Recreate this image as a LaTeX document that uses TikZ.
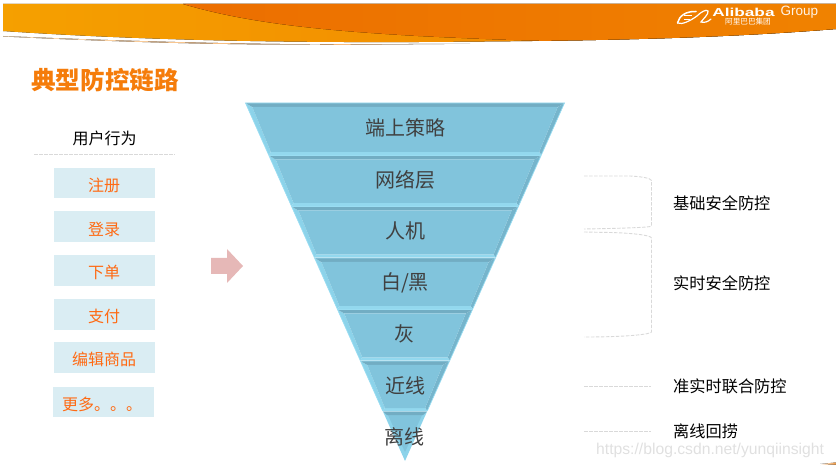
\documentclass[tikz,border=0pt]{standalone}
\usepackage{fontspec}
\setmainfont{Noto Sans CJK SC}
\newfontfamily\latinf{Liberation Sans}
\definecolor{facec}{HTML}{81C4DC}
\definecolor{topbev}{HTML}{72ADC3}
\definecolor{lowbev}{HTML}{93D8EE}
\definecolor{leftbev}{HTML}{8CD3EA}
\definecolor{rightbev}{HTML}{76B5CC}
\definecolor{edgec}{HTML}{9ADDF2}
\definecolor{boxc}{HTML}{DAEDF3}
\definecolor{acttxt}{HTML}{FF6A13}
\definecolor{dashc}{HTML}{D9D9D9}
\definecolor{titlec}{HTML}{F57C0A}
\tikzset{
  actbox/.style={fill=boxc,draw=none,minimum width=101bp,minimum height=30.5bp,inner sep=0pt},
  acttext/.style={inner sep=0pt,text=acttxt,font=\fontsize{16bp}{18bp}\selectfont},
  bandtxt/.style={text=black!75,inner sep=0pt,font=\fontsize{20bp}{22bp}\selectfont},
  sidetxt/.style={text=black,inner sep=0pt,anchor=west,font=\fontsize{16.2bp}{18bp}\selectfont},
  dashln/.style={draw=dashc,line width=0.9bp,dash pattern=on 3.5bp off 1.5bp},
}
\newcommand{\bandshape}[2]{%
  \pgfmathsetmacro{\ha}{0.44553*(461-#1)}%
  \pgfmathsetmacro{\hb}{0.44553*(461-#2)}%
  \pgfmathsetmacro{\hc}{0.44553*(461-#1-4)-5}%
  \pgfmathsetmacro{\hd}{0.44553*(461-#2+3)-3.5}%
  \fill[leftbev] (405-\ha,#1) -- (405-\hc,#1+4) -- (405-\hd,#2-3) -- (405-\hb,#2) -- cycle;
  \fill[rightbev] (405+\ha,#1) -- (405+\hc,#1+4) -- (405+\hd,#2-3) -- (405+\hb,#2) -- cycle;
  \fill[topbev] (405-\ha,#1) -- (405+\ha,#1) -- (405+\hc,#1+4) -- (405-\hc,#1+4) -- cycle;
  \fill[lowbev] (405-\hb,#2) -- (405+\hb,#2) -- (405+\hd,#2-3) -- (405-\hd,#2-3) -- cycle;
  \fill[facec] (405-\hc,#1+4) -- (405+\hc,#1+4) -- (405+\hd,#2-3) -- (405-\hd,#2-3) -- cycle;
  \draw[edgec,line width=0.7bp] (405-\hb,#2) -- (405-\ha,#1) -- (405+\ha,#1) -- (405+\hb,#2);
}
\begin{document}
\begin{tikzpicture}[x=1bp,y=-1bp]
\useasboundingbox (0,0) rectangle (836,468);
% header
\begin{scope}
\clip (3,4) -- (836,4) -- (836,29) .. controls (700,40) and (560,41) .. (420,42) .. controls (300,42.5) and (150,41) .. (3,31) -- cycle;
\fill[left color={rgb,255:red,245;green,160;blue,0},right color={rgb,255:red,240;green,128;blue,0}] (0,0) rectangle (836,50);
\fill[left color={rgb,255:red,236;green,110;blue,0},right color={rgb,255:red,240;green,130;blue,0}] (183,4) .. controls (250,24) and (330,31) .. (418,36) .. controls (500,40) and (560,42) .. (640,42) -- (836,42) -- (836,4) -- cycle;
\end{scope}
\fill[left color={rgb,255:red,252;green,225;blue,190},right color={rgb,255:red,244;green,175;blue,105}] (3,36) .. controls (120,41) and (230,44) .. (320,44.3) .. controls (230,45.3) and (120,42) .. (3,36.5) -- cycle;
\fill[left color={rgb,255:red,244;green,175;blue,105},right color=white] (320,44.3) -- (470,43.8) -- (320,45) -- cycle;
% logo
\draw[white,line width=1.5bp,line cap=round] (677.5,23) .. controls (679,16) and (686,11) .. (696,11.5);
\draw[white,line width=1.2bp,line cap=round] (677.5,23) .. controls (682,25) and (690,21) .. (697,16) .. controls (701,12) and (706,9) .. (708,11) .. controls (709,14) and (703,19) .. (701,22) .. controls (704,23) and (708,22) .. (711,19);
\draw[white,line width=0.8bp] (684,15) -- (692,15) (684,19) -- (690,19);
\node[inner sep=0pt,anchor=west,text=white,xscale=1.5] (alibaba) at (712,12.3) {\latinf\fontsize{11.5bp}{12bp}\selectfont\bfseries Alibaba};
\node[inner sep=0pt,anchor=west,text=white!90!orange] (group) at (780.5,12.3) {\latinf\fontsize{13.5bp}{14bp}\selectfont Group};
\node[inner sep=0pt,anchor=west,text=white] (cnname) at (725,21.5) {\fontsize{7.6bp}{8bp}\selectfont 阿里巴巴集团};
% title
\node[inner sep=0pt,anchor=west,text=titlec] (title) at (31,80.5) {\fontsize{24.6bp}{26bp}\selectfont\bfseries 典型防控链路};
% left column
\node[inner sep=0pt,text=black] (usr) at (104.5,138) {\fontsize{16bp}{18bp}\selectfont 用户行为};
\coordinate (ula) at (34,154.5);
\coordinate (ulb) at (175,154.5);
\draw[dashln] (ula) -- (ulb);
\node[actbox] (a1) at (104.5,182.8) {};
\node[actbox] (a2) at (104.5,226.5) {};
\node[actbox] (a3) at (104.5,270.3) {};
\node[actbox] (a4) at (104.5,314.5) {};
\node[actbox] (a5) at (104.5,357.5) {};
\node[actbox] (a6) at (103.5,401.8) {};
\node[acttext] (t1) at (104,185) {注册};
\node[acttext] (t2) at (104,229) {登录};
\node[acttext] (t3) at (104,272.5) {下单};
\node[acttext] (t4) at (104,316) {支付};
\node[acttext] (t5) at (104,359.5) {编辑商品};
\node[acttext,anchor=west] (t6) at (62,404) {更多。。。};
% arrow
\fill[fill={rgb,255:red,230;green,184;blue,183}] (211,258) -- (227,258) -- (227,249) -- (243,266) -- (227,283) -- (227,274) -- (211,274) -- cycle;
% funnel
\bandshape{103}{155}
\bandshape{155.5}{206}
\bandshape{206.5}{257.5}
\bandshape{258}{309}
\bandshape{309.5}{360.5}
\bandshape{361}{411}
\pgfmathsetmacro{\hz}{0.44553*(461-411.5)}
\fill[leftbev] (405-\hz,411.5) -- (405+\hz,411.5) -- (405,461) -- cycle;
\fill[facec] (405-\hz+5,415) -- (405+\hz-5,415) -- (405,452) -- cycle;
\fill[topbev] (405-\hz,411.5) -- (405+\hz,411.5) -- (405+\hz-4,415) -- (405-\hz+4,415) -- cycle;
\node[bandtxt] (b1) at (405,127.5) {端上策略};
\node[bandtxt] (b2) at (405,179.5) {网络层};
\node[bandtxt] (b3) at (405,231) {人机};
\node[bandtxt] (b4) at (405,282.5) {白/黑};
\node[bandtxt] (b5) at (404.5,333.5) {灰};
\node[bandtxt] (b6) at (405,385.5) {近线};
\node[bandtxt] (b7) at (404.5,436.5) {离线};
% brackets
\coordinate (ba) at (584,176);
\coordinate (bb) at (584,229);
\coordinate (bc) at (584,232);
\coordinate (bd) at (584,337);
\draw[dashln] (ba) -- (630,176) .. controls (640,176.5) and (651,178) .. (651.5,180.5) -- (651.5,226) .. controls (651,227) and (640,228) .. (bb);
\draw[dashln] (bc) -- (610,232.5) .. controls (630,233) and (651,235) .. (651.5,238) -- (651.5,332) .. controls (651,334) and (630,337) .. (bd);
\coordinate (la) at (584,386);
\coordinate (lb) at (651,386);
\coordinate (lc) at (584,431);
\coordinate (ld) at (651,431);
\draw[dashln] (la) -- (lb);
\draw[dashln] (lc) -- (ld);
\node[sidetxt] (s1) at (673,203) {基础安全防控};
\node[sidetxt] (s2) at (673,283) {实时安全防控};
\node[sidetxt] (s3) at (673,386.5) {准实时联合防控};
\node[sidetxt] (s4) at (673,431) {离线回捞};
% watermark
\node[inner sep=0pt,anchor=west,text=black!12] (wm) at (596,450) {\latinf\fontsize{15.7bp}{18bp}\selectfont https://blog.csdn.net/yunqiinsight};
\fill[left color=white,right color={rgb,255:red,240;green,150;blue,60}] (820,464) -- (836,462.5) -- (836,464.5) -- (820,465) -- cycle;
\end{tikzpicture}
\end{document}
